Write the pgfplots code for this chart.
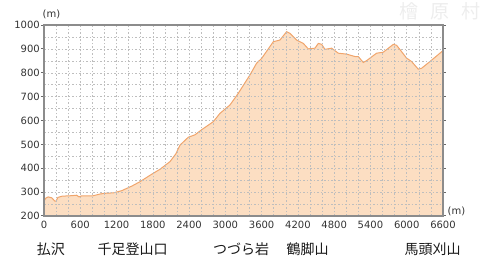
\documentclass[border=0pt]{standalone}
\usepackage{fontspec}
\setmainfont{DejaVu Sans}
\newfontfamily\cjk{Noto Sans CJK JP}
\usepackage{pgfplots}
\pgfplotsset{compat=1.18}
\definecolor{fillc}{RGB}{252,222,194}
\definecolor{linec}{RGB}{240,165,108}
\definecolor{framec}{RGB}{140,140,140}
\definecolor{framed}{RGB}{105,105,105}
\definecolor{gridc}{RGB}{190,190,190}
\begin{document}
\begin{tikzpicture}[x=1pt,y=1pt]
\path[use as bounding box] (0,0) rectangle (480,273);
\node[text=black!7,font=\cjk\fontsize{19}{19}\selectfont] at (440,262) {檜\hspace{12pt}原\hspace{12pt}村};
\begin{axis}[
  at={(44pt,57pt)}, anchor=south west,
  scale only axis, width=399pt, height=191pt,
  xmin=0, xmax=6600, ymin=200, ymax=1000,
  xtick={0,600,...,6600}, ytick={200,300,...,1000},
  minor xtick={200,400,...,6400}, minor ytick={250,350,...,950},
  grid=both,
  major grid style={gridc, dash pattern=on 1.5pt off 2pt, line width=0.5pt},
  minor grid style={gridc, dash pattern=on 1.5pt off 2pt, line width=0.5pt},
  axis line style={framec, line width=1.5pt},
  tick align=outside, major tick length=3pt,
  xtick style={draw=none}, ytick style={framed, line width=1pt},
  minor tick length=0pt,
  scaled ticks=false,
  /pgf/number format/assume math mode=true,
  /pgf/number format/set thousands separator={},
  ticklabel style={font=\fontsize{10}{12}\selectfont, text=black!80},
  yticklabel style={inner sep=1pt},
  xticklabel style={inner sep=2pt},
  axis on top,
  clip=false,
]
\addplot[draw=linec, line width=1pt, fill=fillc] coordinates {
(0,262) (30,275) (70,280) (130,276) (180,262) (200,262) (230,278) (300,283)
(450,285) (540,287) (580,280) (620,284) (800,284) (925,292) (1000,295)
(1150,297) (1285,306) (1450,325) (1590,344) (1750,370) (1920,396) (2085,428)
(2180,460) (2250,497) (2387,530) (2497,540) (2600,560) (2800,595) (2911,630)
(3076,665) (3214,714) (3407,791) (3517,840) (3600,860) (3793,930) (3903,937)
(4013,972) (4068,965) (4179,937) (4289,923) (4372,900) (4483,903) (4537,923)
(4593,919) (4648,898) (4758,903) (4868,882) (5006,878) (5144,868) (5199,868)
(5282,843) (5337,851) (5502,882) (5612,886) (5778,919) (5833,915) (5999,861)
(6081,847) (6191,815) (6247,819) (6384,847) (6578,888) (6600,888)
} \closedcycle;
\draw[framed, line width=1.8pt] (rel axis cs:0,1) -- (rel axis cs:0,0) -- (rel axis cs:1,0);
\end{axis}
\node[font=\fontsize{10}{12}\selectfont, text=black!80] at (51.5,258.5) {(m)};
\node[font=\fontsize{10}{12}\selectfont, text=black!80] at (456.5,62) {(m)};
\begin{scope}[every node/.style={font=\cjk\fontsize{14}{16}\selectfont, text=black!90}]
\node at (51,24) {払沢};
\node at (132.5,24) {千足登山口};
\node at (241,24) {つづら岩};
\node at (307.5,24) {鶴脚山};
\node at (432.5,24) {馬頭刈山};
\end{scope}
\end{tikzpicture}
\end{document}
